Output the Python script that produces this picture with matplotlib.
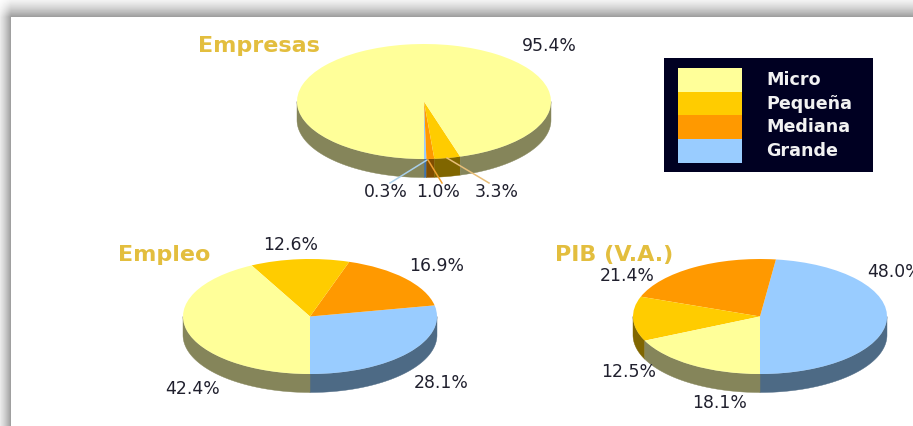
import numpy as np
import matplotlib
matplotlib.use("Agg")
import matplotlib.pyplot as plt

# datos, en orden antihorario desde abajo
categories = ["Grande", "Mediana", "Pequeña", "Micro"]
empresas = [0.3, 1.0, 3.3, 95.4]
empleo = [28.1, 16.9, 12.6, 42.4]
pib = [48.0, 21.4, 12.5, 18.1]
legend_order = ["Micro", "Pequeña", "Mediana", "Grande"]

colors = {"Micro": "#FFFF99", "Pequeña": "#FFCC00", "Mediana": "#FF9900", "Grande": "#99CCFF"}
side_colors = {"Micro": "#85855A", "Pequeña": "#806600", "Mediana": "#804D00", "Grande": "#4D6A85"}
side_colors_thin = {"Grande": "#3F73AD"}

W, H = 913, 426
RX, RY, DEPTH = 127.0, 57.5, 18.5
LABEL = "#20202E"
TITLE = "#E3BE3E"

fig = plt.figure(figsize=(W / 100, H / 100), dpi=100, facecolor="white")


def pixel_axes(zorder):
    ax = fig.add_axes([0, 0, 1, 1], zorder=zorder)
    ax.set_xlim(0, W)
    ax.set_ylim(H, 0)
    ax.axis("off")
    return ax


# sombra del recuadro (arriba e izquierda)
bg = pixel_axes(0)
xx, yy = np.meshgrid(np.arange(W) + 0.5, np.arange(H) + 0.5)
tx = np.clip((xx + 6) / 17, 0, 1)
ty = np.clip((yy + 6) / 23, 0, 1)
shade = 255 - 100 * (tx * ty) ** 1.6
shade[(xx >= 11) & (yy >= 17)] = 255
bg.imshow(shade, cmap="gray", vmin=0, vmax=255, extent=(0, W, H, 0), aspect="auto", interpolation="bilinear")
bg.set_xlim(0, W)
bg.set_ylim(H, 0)


def draw_pie(values, cx, cy):
    ax = fig.add_axes([(cx - RX * 1.25) / W, (H - cy - RY * 1.25) / H, RX * 2.5 / W, RY * 2.5 / H], zorder=1)
    wedge_colors = [colors[c] for c in categories]
    ax.pie(values, colors=wedge_colors, startangle=270, counterclock=True, radius=1,
           wedgeprops={"linewidth": 0})
    ax.set_aspect("auto")
    ax.set_xlim(-1.25, 1.25)
    ax.set_ylim(-1.25, 1.25)
    ax.patch.set_alpha(0)
    # pared lateral visible (mitad de abajo)
    start = 270.0
    d = DEPTH / RY
    for cat, v in zip(categories, values):
        end = start + v * 3.6
        for lo, hi in [(start, end), (start - 360, end - 360)]:
            a, b = max(lo, 180), min(hi, 360)
            if b > a:
                t = np.radians(np.linspace(a, b, 80))
                px = np.concatenate([np.cos(t), np.cos(t[::-1])])
                py = np.concatenate([np.sin(t), np.sin(t[::-1]) - d])
                col = side_colors_thin[cat] if (cat in side_colors_thin and v < 1) else side_colors[cat]
                ax.fill(px, py, color=col, lw=0.3, zorder=0, clip_on=False)
        start = end


draw_pie(empresas, 424, 101.5)
draw_pie(empleo, 310, 316.5)
draw_pie(pib, 760, 316.5)

top = pixel_axes(2)
top.patch.set_alpha(0)

# lineas guia de Empresas
leaders = [((427, 160), (390, 183), "#A9CFEA"), ((428, 160), (442, 183), "#F0A030"), ((447, 158), (489, 183), "#E8BE78")]
for a, b, col in leaders:
    top.plot([a[0], b[0]], [a[1], b[1]], color=col, lw=1.1)

# etiquetas de porcentaje
empresas_pos = [(386, 192), (438, 192), (497, 192), (549, 46)]
empleo_pos = [(441, 383), (437, 266), (291, 245), (193, 389)]
pib_pos = [(895, 272), (627, 276), (629, 372), (720, 403)]
for vals, pos in [(empresas, empresas_pos), (empleo, empleo_pos), (pib, pib_pos)]:
    for v, (x, y) in zip(vals, pos):
        top.text(x, y, "%.1f%%" % v, ha="center", va="center", fontsize=12.4, color=LABEL, clip_on=False)

# titulos
for txt, x, y in [("Empresas", 198, 46), ("Empleo", 118, 255), ("PIB (V.A.)", 555, 255)]:
    top.text(x, y, txt, ha="left", va="center", fontsize=16, fontweight="bold", color=TITLE)

# leyenda
top.add_patch(plt.Rectangle((664, 58), 209, 114, color="#000022", lw=0))
for i, name in enumerate(legend_order):
    y0 = 68 + i * 23.7
    top.add_patch(plt.Rectangle((678, y0), 64, 23.7, color=colors[name], lw=0))
    top.text(766, y0 + 12, name, ha="left", va="center", fontsize=12.6, fontweight="bold", color="#F2F2F2")

fig.savefig("out.png", dpi=100)
